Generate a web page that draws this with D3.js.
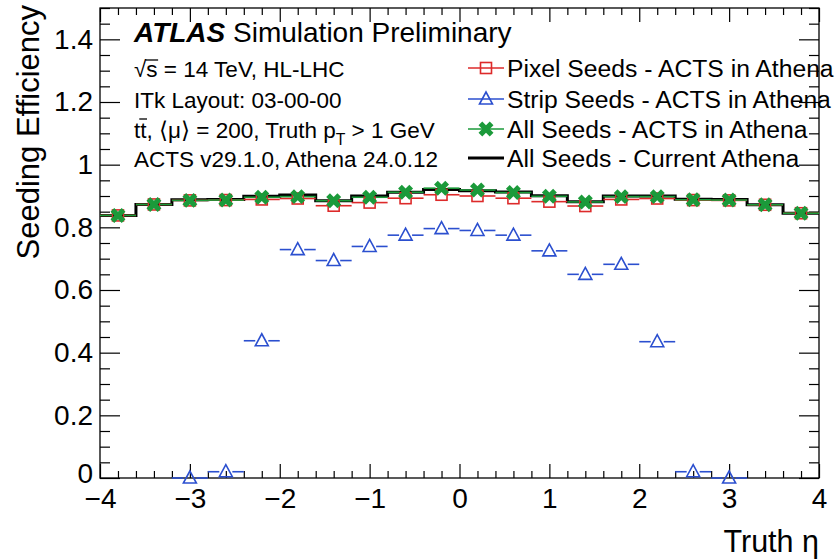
<!DOCTYPE html>
<html>
<head>
<meta charset="utf-8">
<script src="https://cdn.jsdelivr.net/npm/d3@7"></script>
<style>
  html, body { margin: 0; padding: 0; background: #fff; }
  svg { display: block; font-family: "Liberation Sans", Arial, Helvetica, sans-serif; }
</style>
</head>
<body>
<svg id="chart" width="835" height="559"></svg>
<script>
// ---------------- data ----------------
const etaBins = [-3.8,-3.4,-3.0,-2.6,-2.2,-1.8,-1.4,-1.0,-0.6,-0.2,0.2,0.6,1.0,1.4,1.8,2.2,2.6,3.0,3.4,3.8];
const binHalfWidth = 0.2;
const currentAthena = [0.838,0.873,0.888,0.889,0.899,0.903,0.885,0.900,0.912,0.921,0.917,0.913,0.901,0.882,0.900,0.900,0.890,0.889,0.872,0.845];
const allSeedsActs  = [0.838,0.873,0.886,0.887,0.896,0.898,0.885,0.896,0.912,0.925,0.919,0.911,0.899,0.881,0.898,0.898,0.888,0.887,0.872,0.845];
const pixelSeedsActs= [0.838,0.873,0.886,0.887,0.889,0.892,0.869,0.879,0.893,0.904,0.900,0.893,0.882,0.868,0.889,0.892,0.887,0.886,0.872,0.845];
const stripSeedsActs= [null,null,0.0,0.02,0.438,0.729,0.694,0.739,0.775,0.796,0.790,0.775,0.725,0.650,0.682,0.435,0.02,0.0,null,null];
const xDomain = [-4, 4];
const yDomain = [0, 1.5];
const xMajorTicks = [-4,-3,-2,-1,0,1,2,3,4];
const yMajorTicks = [0,0.2,0.4,0.6,0.8,1.0,1.2,1.4];
const legendLabels = ["Pixel Seeds - ACTS in Athena","Strip Seeds - ACTS in Athena","All Seeds - ACTS in Athena","All Seeds - Current Athena"];

// ---------------- layout ----------------
const svg = d3.select("#chart");
const L = 100, R = 819, T = 8, B = 478;
const x = d3.scaleLinear().domain(xDomain).range([L, R]);
const y = d3.scaleLinear().domain(yDomain).range([B, T]);
const red = "#dd2a2a", blue = "#2b4fcf", green = "#1b9a3a";

const xMinor = d3.range(-4, 4.0001, 0.2).map(v => +v.toFixed(2)).filter(v => !xMajorTicks.includes(v));
const yMinor = d3.range(0, 1.5001, 0.05).map(v => +v.toFixed(2)).filter(v => !yMajorTicks.some(m => Math.abs(m - v) < 1e-6));

function styleAxis(g) {
  g.select(".domain").remove();
  g.selectAll("line").attr("stroke", "#000").attr("stroke-width", 1.2);
  g.selectAll("text").attr("fill", "#000").attr("font-size", 28).attr("font-family", "Liberation Sans, Arial, sans-serif");
}
const fmtY = d => String(+d.toFixed(1));
const fmtX = d => (d < 0 ? "\u2212" + Math.abs(d) : String(d));

svg.append("g").attr("transform", `translate(0,${B})`)
  .call(d3.axisBottom(x).tickValues(xMajorTicks).tickSize(-14).tickPadding(10).tickFormat(fmtX)).call(styleAxis);
svg.append("g").attr("transform", `translate(0,${B})`)
  .call(d3.axisBottom(x).tickValues(xMinor).tickSize(-7).tickFormat("")).call(styleAxis);
svg.append("g").attr("transform", `translate(0,${T})`)
  .call(d3.axisTop(x).tickValues(xMajorTicks).tickSize(-14).tickFormat("")).call(styleAxis);
svg.append("g").attr("transform", `translate(0,${T})`)
  .call(d3.axisTop(x).tickValues(xMinor).tickSize(-7).tickFormat("")).call(styleAxis);
const yAxisG = svg.append("g").attr("transform", `translate(${L},0)`)
  .call(d3.axisLeft(y).tickValues(yMajorTicks).tickSize(-20).tickPadding(7).tickFormat(fmtY)).call(styleAxis);
// lift the "0" label slightly so it does not collide with the "−4" label
yAxisG.selectAll(".tick").filter(d => d === 0).select("text").attr("y", -4);
svg.append("g").attr("transform", `translate(${L},0)`)
  .call(d3.axisLeft(y).tickValues(yMinor).tickSize(-10).tickFormat("")).call(styleAxis);
svg.append("g").attr("transform", `translate(${R},0)`)
  .call(d3.axisRight(y).tickValues(yMajorTicks).tickSize(-20).tickFormat("")).call(styleAxis);
svg.append("g").attr("transform", `translate(${R},0)`)
  .call(d3.axisRight(y).tickValues(yMinor).tickSize(-10).tickFormat("")).call(styleAxis);

svg.append("rect").attr("x", L).attr("y", T).attr("width", R - L).attr("height", B - T)
  .attr("fill", "none").attr("stroke", "#000").attr("stroke-width", 1.3);

// axis titles
svg.append("text").attr("x", R).attr("y", 552).attr("text-anchor", "end")
  .attr("font-size", 30.5).attr("fill", "#000").text("Truth \u03b7");
svg.append("text").attr("transform", `translate(39,${T - 3}) rotate(-90)`).attr("text-anchor", "end")
  .attr("font-size", 31).attr("fill", "#000").text("Seeding Efficiency");

// ---------------- data marks ----------------
const plot = svg.append("g");

const stepPts = etaBins.map((c, i) => [c - binHalfWidth, currentAthena[i]]);
stepPts.push([etaBins[etaBins.length - 1] + binHalfWidth, currentAthena[currentAthena.length - 1]]);
plot.append("path").datum(stepPts)
  .attr("d", d3.line().x(d => x(d[0])).y(d => y(d[1])).curve(d3.curveStepAfter))
  .attr("fill", "none").attr("stroke", "#000").attr("stroke-width", 3);

function errBars(vals, color, gap) {
  const g = plot.append("g");
  etaBins.forEach((c, i) => {
    const v = vals[i];
    if (v == null) return;
    const cx = x(c), cy = y(v);
    g.append("line").attr("x1", x(c - binHalfWidth)).attr("x2", cx - gap).attr("y1", cy).attr("y2", cy)
      .attr("stroke", color).attr("stroke-width", 1.6);
    g.append("line").attr("x1", cx + gap).attr("x2", x(c + binHalfWidth)).attr("y1", cy).attr("y2", cy)
      .attr("stroke", color).attr("stroke-width", 1.6);
  });
}
function squareMarker(g, cx, cy) {
  g.append("rect").attr("x", cx - 5.5).attr("y", cy - 5.5).attr("width", 11).attr("height", 11)
    .attr("fill", "none").attr("stroke", red).attr("stroke-width", 1.6);
}
function triMarker(g, cx, cy) {
  g.append("path").attr("d", `M${cx - 6.5},${cy + 5} L${cx + 6.5},${cy + 5} L${cx},${cy - 7} Z`)
    .attr("fill", "none").attr("stroke", blue).attr("stroke-width", 1.6).attr("stroke-linejoin", "miter");
}
const xSym = d3.symbol().type(d3.symbolCross).size(140);
function xMarker(g, cx, cy) {
  g.append("path").attr("d", xSym()).attr("transform", `translate(${cx},${cy}) rotate(45)`)
    .attr("fill", green);
}

errBars(pixelSeedsActs, red, 5.5);
const gRed = plot.append("g");
etaBins.forEach((c, i) => squareMarker(gRed, x(c), y(pixelSeedsActs[i])));
errBars(stripSeedsActs, blue, 6.5);
const gBlue = plot.append("g");
etaBins.forEach((c, i) => { if (stripSeedsActs[i] != null) triMarker(gBlue, x(c), y(stripSeedsActs[i])); });
errBars(allSeedsActs, green, 6);
const gGreen = plot.append("g");
etaBins.forEach((c, i) => xMarker(gGreen, x(c), y(allSeedsActs[i])));

// ---------------- labels ----------------
const lab = svg.append("g").attr("fill", "#000");
const t1 = lab.append("text").attr("x", 134).attr("y", 42).attr("font-size", 28);
t1.append("tspan").attr("font-weight", "bold").attr("font-style", "italic").text("ATLAS");
t1.append("tspan").text(" Simulation Preliminary");

const fs = 22.5;
const t2 = lab.append("text").attr("x", 134).attr("y", 77).attr("font-size", fs);
t2.append("tspan").text("\u221a");
t2.append("tspan").text("s");
t2.append("tspan").text(" = 14 TeV, HL-LHC");
lab.append("text").attr("x", 134).attr("y", 108).attr("font-size", fs).text("ITk Layout: 03-00-00");
const t4 = lab.append("text").attr("x", 134).attr("y", 138).attr("font-size", fs);
t4.append("tspan").text("t");
t4.append("tspan").text("t");
t4.append("tspan").text(", \u27e8\u03bc\u27e9 = 200, Truth p");
t4.append("tspan").attr("font-size", fs * 0.7).attr("dy", 7).text("T");
t4.append("tspan").attr("dy", -7).text(" > 1 GeV");
lab.append("text").attr("x", 134).attr("y", 167).attr("font-size", fs).text("ACTS v29.1.0, Athena 24.0.12");

function overline(textSel, idx, dyTop) {
  const node = textSel.node();
  const start = node.getStartPositionOfChar(idx);
  const end = node.getEndPositionOfChar(idx);
  lab.append("line").attr("x1", start.x - 1).attr("x2", end.x + 0.5)
    .attr("y1", start.y - dyTop).attr("y2", start.y - dyTop)
    .attr("stroke", "#000").attr("stroke-width", 1.3);
}
overline(t2, 1, 17);
overline(t4, 1, 19);

// legend
const legY = [68, 99, 129, 158];
const lg = svg.append("g");
const lx0 = 468, lx1 = 504, lmx = 486;
lg.append("line").attr("x1", lx0).attr("x2", lx1).attr("y1", legY[0]).attr("y2", legY[0]).attr("stroke", red).attr("stroke-width", 1.6);
squareMarker(lg, lmx, legY[0]);
lg.append("line").attr("x1", lx0).attr("x2", lx1).attr("y1", legY[1]).attr("y2", legY[1]).attr("stroke", blue).attr("stroke-width", 1.6);
triMarker(lg, lmx, legY[1]);
lg.append("line").attr("x1", lx0).attr("x2", lx1).attr("y1", legY[2]).attr("y2", legY[2]).attr("stroke", green).attr("stroke-width", 1.6);
xMarker(lg, lmx, legY[2]);
lg.append("line").attr("x1", lx0).attr("x2", lx1).attr("y1", legY[3]).attr("y2", legY[3]).attr("stroke", "#000").attr("stroke-width", 3);
legendLabels.forEach((t, i) => {
  lg.append("text").attr("x", 507).attr("y", legY[i] + 9).attr("font-size", 24.7).attr("fill", "#000").text(t);
});
</script>
</body>
</html>
